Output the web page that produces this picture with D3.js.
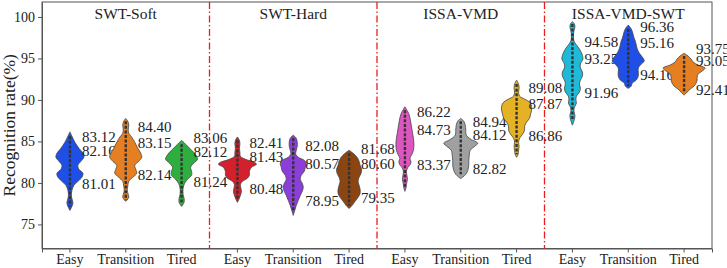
<!DOCTYPE html>
<html>
<head>
<meta charset="utf-8">
<script src="https://cdn.jsdelivr.net/npm/d3@7"></script>
<style>
  body { margin: 0; background: #fff; }
  svg { display: block; font-family: "Liberation Serif", "Times New Roman", serif; }
</style>
</head>
<body>
<div id="chart"></div>
<script>
const groups = ["SWT-Soft", "SWT-Hard", "ISSA-VMD", "ISSA-VMD-SWT"]
const states = ["Easy", "Transition", "Tired"]
const yTicks = [75, 80, 85, 90, 95, 100]

const fillColors = [
  "#1f4fe6", "#e67e22", "#2eae3e",
  "#d41f2c", "#8b3fd8", "#8b4513",
  "#dd55c0", "#a0a0a0", "#e4b224",
  "#1fbad8", "#1f4fe6", "#e67e22"
]

// three labels per violin (upper, middle, lower)
const labelValues = [
  [83.12, 82.16, 81.01], [84.40, 83.15, 82.14], [83.06, 82.12, 81.24],
  [82.41, 81.43, 80.48], [82.08, 80.57, 78.95], [81.68, 80.60, 79.35],
  [86.22, 84.73, 83.37], [84.94, 84.12, 82.82], [89.08, 87.87, 86.86],
  [94.58, 93.25, 91.96], [96.36, 95.16, 94.16], [93.75, 93.05, 92.41]
]

// violin outlines: [recognition rate, relative density]
const softEasy = [[86.15,0],[85.63,2],[84.90,5],[84.18,9],[83.57,13],[83.09,14],[82.61,11],[82.13,8],[81.64,9],[81.16,13],[80.68,12],[80.19,8],[79.71,4],[79.11,2],[78.38,1.5],[77.90,2.5],[77.54,3],[77.17,2],[76.69,0]]
const softTransition = [[87.77,0],[87.44,2],[86.96,3],[86.47,2.5],[85.99,3],[85.51,6],[84.90,9],[84.18,12],[83.57,15],[83.09,16],[82.61,13],[82.13,9],[81.64,10],[81.16,11],[80.68,7],[80.19,3],[79.59,2],[79.11,1.5],[78.62,2.5],[78.26,3],[77.90,1],[77.78,0]]
const softTired = [[85.14,0],[84.66,4],[84.18,8],[83.70,12],[83.21,15],[82.85,16],[82.37,12],[81.88,9],[81.40,10],[80.92,10],[80.43,6],[79.95,3],[79.35,1.5],[78.62,1.5],[78.14,2.5],[77.66,2.5],[77.17,0]]
const hardEasy = [[85.54,0],[85.14,2],[84.66,2.5],[84.18,2],[83.70,2.5],[83.21,3],[82.85,8],[82.49,17],[82.25,19],[81.88,14],[81.40,12],[80.92,12],[80.56,10],[80.19,5],[79.83,3],[79.35,3.5],[78.99,4],[78.50,3],[78.02,1.5],[77.66,0]]
const hardTransition = [[85.75,0],[85.39,3],[84.90,4],[84.42,4],[83.94,3],[83.45,2.5],[83.09,5],[82.73,11],[82.37,13],[81.88,12],[81.40,11],[80.92,8],[80.43,7],[79.95,9],[79.47,10],[78.99,9],[78.50,7],[77.90,5],[77.29,3],[76.69,1.5],[76.09,0]]
const hardTired = [[83.94,0],[83.57,4],[83.09,8],[82.61,10],[82.13,11],[81.64,12.5],[81.16,12],[80.68,10],[80.19,9],[79.71,10],[79.23,11],[78.74,11],[78.26,9],[77.78,6],[77.29,3],[76.93,0]]
const vmdEasy = [[89.17,0],[88.77,2],[88.29,4],[87.56,5.5],[86.84,6.5],[86.11,7.5],[85.39,8.5],[84.66,9],[83.94,8.5],[83.33,6.5],[82.97,5],[82.61,6],[82.25,5.5],[81.88,3],[81.40,1.5],[80.92,2],[80.43,2.5],[79.83,1.5],[79.35,1],[78.99,0]]
const vmdTransition = [[87.77,0],[87.44,3],[86.96,4.5],[86.35,5],[85.75,5.5],[85.27,10],[84.78,17],[84.42,14],[83.94,9.5],[83.33,8.5],[82.73,8],[82.13,8],[81.52,7],[81.04,5],[80.52,0]]
const vmdTired = [[92.39,0],[91.91,2],[91.43,2.5],[90.94,2],[90.46,3],[90.10,8],[89.73,13],[89.25,15],[88.77,15],[88.29,14],[87.80,13],[87.32,10],[86.84,8],[86.35,8],[85.87,6],[85.39,3],[84.90,2],[84.42,2.5],[83.94,2],[83.45,1.5],[83.09,0]]
const swtEasy = [[99.43,0],[99.15,2],[98.79,2.5],[98.31,1.5],[97.71,1],[97.10,1.5],[96.62,4],[96.14,7],[95.53,9.5],[94.93,10.5],[94.32,8],[93.84,8],[93.36,10],[92.87,10],[92.39,8],[91.91,7],[91.43,8],[90.94,7],[90.46,4],[89.98,3.5],[89.61,4],[89.13,2],[88.65,1.5],[88.16,2.5],[87.68,2],[86.96,0]]
const swtTransition = [[99.03,0],[98.55,3],[98.07,4.5],[97.58,5.5],[97.10,7],[96.62,8],[96.14,9],[95.65,11],[95.17,14],[94.69,16],[94.32,13],[93.84,10],[93.36,10],[92.87,10],[92.39,8],[92.03,4],[91.67,3],[91.39,0]]
const swtTired = [[95.62,0],[95.29,4],[94.93,7],[94.57,9],[94.20,14],[93.84,21],[93.48,18],[93.12,14],[92.75,13],[92.39,13],[92.03,12],[91.67,10],[91.30,6],[90.94,3],[90.58,0]]

const profiles = [
  softEasy, softTransition, softTired,
  hardEasy, hardTransition, hardTired,
  vmdEasy, vmdTransition, vmdTired,
  swtEasy, swtTransition, swtTired
]

const width = 727
const height = 268
const margin = { top: 2, right: 15, bottom: 19.5, left: 42 }
const serif = '"Liberation Serif", "Times New Roman", serif'

const keys = []
groups.forEach((g) => states.forEach((s) => keys.push(g + "|" + s)))

const x = d3
  .scaleBand()
  .domain(keys)
  .range([margin.left, width - margin.right])
  .padding(0)

const y = d3
  .scaleLinear()
  .domain([72.1, 101.8])
  .range([height - margin.bottom, margin.top])

const w = d3.scaleLinear().domain([0, 22]).range([0, 22])

const svg = d3
  .select("#chart")
  .append("svg")
  .attr("width", width)
  .attr("height", height)

// axes
const xAxis = svg
  .append("g")
  .attr("transform", `translate(0,${height - margin.bottom})`)
  .call(
    d3.axisBottom(x).tickSizeOuter(0).tickSize(4).tickPadding(2)
      .tickFormat((d) => d.split("|")[1])
  )
  .attr("font-family", serif)
xAxis.selectAll("text").style("font-size", "14px").attr("fill", "#222")

const yAxis = svg
  .append("g")
  .attr("transform", `translate(${margin.left},0)`)
  .call(d3.axisLeft(y).tickValues(yTicks).tickSize(4).tickSizeOuter(0).tickPadding(3))
  .attr("font-family", serif)
yAxis.selectAll("text").style("font-size", "14px").attr("fill", "#222")

svg.selectAll(".domain, .tick line").attr("stroke", "#555")

// top and right frame
svg
  .append("rect")
  .attr("x", margin.left)
  .attr("y", margin.top)
  .attr("width", width - margin.right - margin.left)
  .attr("height", height - margin.bottom - margin.top)
  .attr("fill", "none")
  .attr("stroke", "#555")
  .attr("stroke-width", 1)

svg
  .append("text")
  .attr("transform", "rotate(-90)")
  .attr("x", -(margin.top + height - margin.bottom) / 2)
  .attr("y", 15)
  .attr("text-anchor", "middle")
  .attr("font-size", "17.5px")
  .attr("fill", "#222")
  .text("Recognition rate(%)")

// group separators
for (let i = 1; i < groups.length; i++) {
  const xs = x(groups[i] + "|" + states[0])
  svg
    .append("line")
    .attr("x1", xs)
    .attr("x2", xs)
    .attr("y1", margin.top)
    .attr("y2", height - margin.bottom)
    .attr("stroke", "#ee1c1c")
    .attr("stroke-width", 1.3)
    .attr("stroke-dasharray", "7,2.5,1.5,2.5")
}

// group titles
svg
  .selectAll(".group-title")
  .data(groups)
  .enter()
  .append("text")
  .attr("class", "group-title")
  .attr("x", (g) => x(g + "|" + states[1]) + x.bandwidth() / 2)
  .attr("y", 19)
  .attr("text-anchor", "middle")
  .attr("font-size", "15.5px")
  .attr("fill", "#222")
  .text((g) => g)

const area = d3
  .area()
  .curve(d3.curveCatmullRom)
  .y((d) => y(d[0]))

const violins = svg
  .selectAll(".violin")
  .data(keys)
  .enter()
  .append("g")
  .attr("class", "violin")

violins.each(function (key, i) {
  const g = d3.select(this)
  const cx = x(key) + x.bandwidth() / 2
  const prof = profiles[i]
  g.append("path")
    .attr(
      "d",
      area.x0((d) => cx - w(d[1])).x1((d) => cx + w(d[1]))(prof)
    )
    .attr("fill", fillColors[i])
    .attr("stroke", "#444")
    .attr("stroke-width", 0.8)

  g.append("line")
    .attr("x1", cx)
    .attr("x2", cx)
    .attr("y1", y(prof[1][0]))
    .attr("y2", y(prof[prof.length - 2][0]))
    .attr("stroke", "#333")
    .attr("stroke-width", 2.4)
    .attr("stroke-dasharray", "3,1.6")

  const offsets = [-20, -14, 9.5]
  labelValues[i].forEach((v, k) => {
    g.append("text")
      .attr("x", cx + 12)
      .attr("y", y(v) + offsets[k])
      .attr("dy", "0.35em")
      .attr("font-size", "15px")
      .attr("fill", "#222")
      .text(v.toFixed(2))
  })
})
</script>
</body>
</html>
